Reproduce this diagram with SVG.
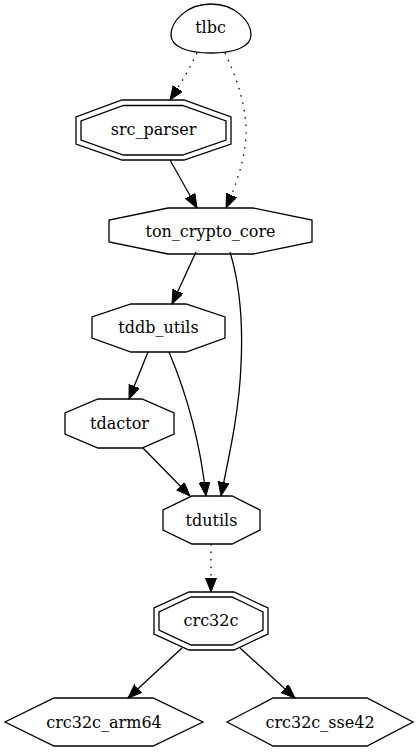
<svg xmlns="http://www.w3.org/2000/svg" width="418" height="752" viewBox="0 0 418 752">
<style>
.n{fill:none;stroke:#000;stroke-width:1.3}
.t{font-family:"DejaVu Serif","Liberation Serif",serif;font-size:16px;text-anchor:middle;fill:#000}
.e{fill:none;stroke:#000;stroke-width:1.3}
.d{stroke-dasharray:1.5,6}
</style>
<defs>
<marker id="ah" markerUnits="userSpaceOnUse" markerWidth="15" markerHeight="12" refX="14" refY="5.5" orient="auto">
<path d="M0,0 L14,5.5 L0,11 Z" fill="#000" stroke="#000" stroke-width="1"/>
</marker>
</defs>
<rect width="418" height="752" fill="#fff"/>
<g id="edges">
<path class="e d" d="M197,53 Q186,76 170,100" marker-end="url(#ah)"/>
<path class="e d" d="M225,53 C238,80 247,110 246,135 C245,160 236,185 226,208" marker-end="url(#ah)"/>
<path class="e" d="M170,160 L197,208" marker-end="url(#ah)"/>
<path class="e" d="M196,252 L172,304" marker-end="url(#ah)"/>
<path class="e" d="M230,252 C240,285 243,325 241,365 C239,415 228,460 221,496" marker-end="url(#ah)"/>
<path class="e" d="M148,352 L129,399" marker-end="url(#ah)"/>
<path class="e" d="M169,352 C185,390 200,440 206,496" marker-end="url(#ah)"/>
<path class="e" d="M143,448 L190,496" marker-end="url(#ah)"/>
<path class="e d" d="M211,544 L211,592" marker-end="url(#ah)"/>
<path class="e" d="M182,648 L128,698" marker-end="url(#ah)"/>
<path class="e" d="M240,648 L295,698" marker-end="url(#ah)"/>
</g>
<g id="tlbc">
<path class="n" d="M211,4 C236,4 251,22 251,35 C251,47 234,53 211,53 C188,53 171,47 171,35 C171,22 186,4 211,4 Z"/>
<text class="t" x="210.5" y="33">tlbc</text>
</g>
<g id="src_parser">
<polygon class="n" points="122,100 184,100 231,117 231,144 184,160 122,160 76,144 76,117"/>
<polygon class="n" points="123.5,105.5 182.5,105.5 226,121 226,140 182.5,155 123.5,155 81,140 81,121"/>
<text class="t" x="153.5" y="135">src_parser</text>
</g>
<g id="ton_crypto_core">
<polygon class="n" points="168,208 253,208 312,220 312,242 253,254 168,254 109,242 109,220"/>
<text class="t" x="210.5" y="237">ton_crypto_core</text>
</g>
<g id="tddb_utils">
<polygon class="n" points="131,304 186,304 225,317 225,338 186,352 131,352 92,338 92,317"/>
<text class="t" x="158.5" y="333">tddb_utils</text>
</g>
<g id="tdactor">
<polygon class="n" points="98,399 142,399 174,413 174,434 142,448 98,448 65,434 65,413"/>
<text class="t" x="119.5" y="429">tdactor</text>
</g>
<g id="tdutils">
<polygon class="n" points="192,496 232,496 260,510 260,530 232,544 192,544 163,530 163,510"/>
<text class="t" x="211.5" y="526">tdutils</text>
</g>
<g id="crc32c">
<polygon class="n" points="189,592 234,592 268,608 268,634 234,650 189,650 154,634 154,608"/>
<polygon class="n" points="191,597 232,597 263,612 263,630 232,645 191,645 159,630 159,612"/>
<text class="t" x="211" y="626">crc32c</text>
</g>
<g id="crc32c_arm64">
<polygon class="n" points="54,698 153,698 203,722 153,746 54,746 5,722"/>
<text class="t" x="104" y="728">crc32c_arm64</text>
</g>
<g id="crc32c_sse42">
<polygon class="n" points="273,698 367,698 413,722 367,746 273,746 227,722"/>
<text class="t" x="320" y="728">crc32c_sse42</text>
</g>
</svg>
